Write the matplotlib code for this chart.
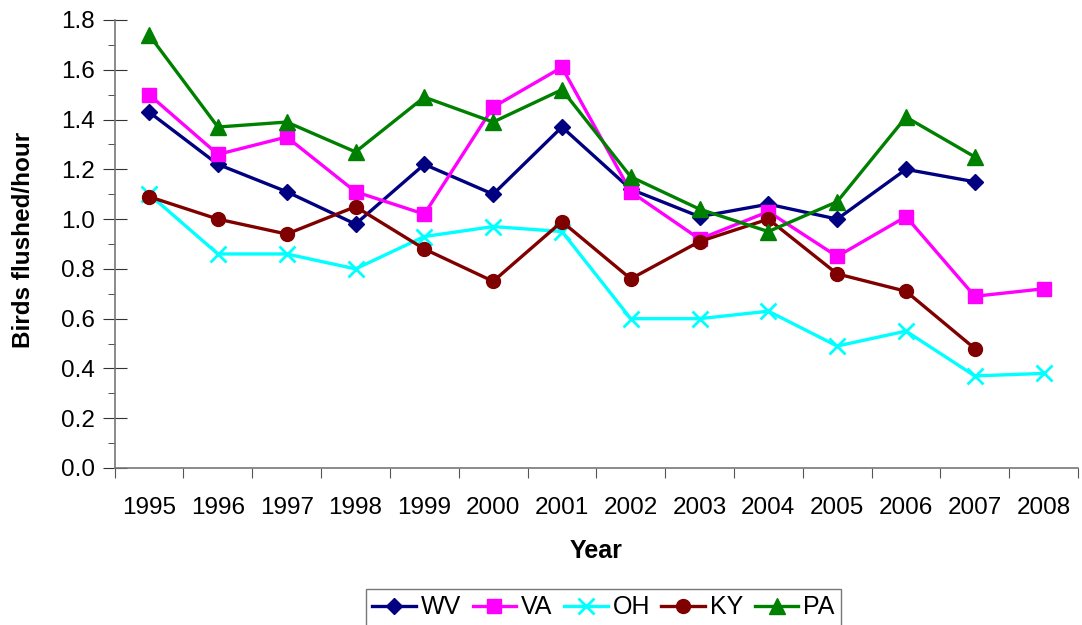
import matplotlib.pyplot as plt
import numpy as np
from matplotlib.ticker import MultipleLocator

plt.rcParams['font.family'] = ['Liberation Sans', 'DejaVu Sans']

years = ['1995', '1996', '1997', '1998', '1999', '2000', '2001',
         '2002', '2003', '2004', '2005', '2006', '2007', '2008']

wv = [1.43, 1.22, 1.11, 0.98, 1.22, 1.10, 1.37, 1.12, 1.01, 1.06, 1.00, 1.20, 1.15, None]
va = [1.50, 1.26, 1.33, 1.11, 1.02, 1.45, 1.61, 1.11, 0.92, 1.03, 0.85, 1.01, 0.69, 0.72]
oh = [1.10, 0.86, 0.86, 0.80, 0.93, 0.97, 0.95, 0.60, 0.60, 0.63, 0.49, 0.55, 0.37, 0.38]
ky = [1.09, 1.00, 0.94, 1.05, 0.88, 0.75, 0.99, 0.76, 0.91, 1.00, 0.78, 0.71, 0.48, None]
pa = [1.74, 1.37, 1.39, 1.27, 1.49, 1.39, 1.52, 1.17, 1.04, 0.95, 1.07, 1.41, 1.25, None]

series = [
    ('WV', wv, '#000080', 'D', 8.5),
    ('VA', va, '#FF00FF', 's', 10),
    ('OH', oh, '#00FFFF', 'x', 11),
    ('KY', ky, '#800000', 'o', 10),
    ('PA', pa, '#008000', '^', 11),
]

fig = plt.figure(figsize=(10.82, 6.25), dpi=100)
ax = fig.add_axes([0.106, 0.2512, 0.8903, 0.7168])

x = np.arange(len(years))
for name, vals, col, mk, ms in series:
    y = np.array([np.nan if v is None else v for v in vals])
    ax.plot(x, y, color=col, marker=mk, markersize=ms, linewidth=2.4,
            markeredgewidth=2 if mk == 'x' else 1, label=name)

ax.set_xlim(-0.5, len(years) - 0.5)
ax.set_ylim(0, 1.8)
ax.set_yticks(np.arange(0, 1.81, 0.2))
ax.set_yticklabels(['%.1f' % v for v in np.arange(0, 1.81, 0.2)])
ax.yaxis.set_minor_locator(MultipleLocator(0.1))

ax.set_xticks(np.arange(-0.5, len(years), 1.0))
ax.set_xticklabels([])
ax.set_xticks(x, minor=True)
ax.set_xticklabels(years, minor=True)
ax.tick_params(axis='x', which='major', direction='out', length=7, color='#555555')
ax.tick_params(axis='x', which='minor', length=0, pad=21, labelsize=17.5)
ax.tick_params(axis='y', which='major', direction='inout', length=17, color='#333333',
               labelsize=17.5, pad=6)
ax.tick_params(axis='y', which='minor', direction='out', length=5, color='#333333')

for s in ['top', 'right']:
    ax.spines[s].set_visible(False)
ax.spines['left'].set_color('#777777')
ax.spines['bottom'].set_color('#777777')
ax.spines['left'].set_linewidth(1.2)
ax.spines['bottom'].set_linewidth(1.2)

ax.set_xlabel('Year', fontsize=18, fontweight='bold', labelpad=14)
ax.set_ylabel('Birds flushed/hour', fontsize=17.5, fontweight='bold')
ax.yaxis.set_label_coords(-0.083, 0.51)

leg = fig.legend(loc='upper center', bbox_to_anchor=(0.5578, 0.0576), ncol=5, fontsize=18,
                 frameon=True, fancybox=False, edgecolor='#555555',
                 handlelength=1.75, handletextpad=0.2, columnspacing=0.45,
                 borderpad=0.25, borderaxespad=0)
leg.get_frame().set_linewidth(1.0)

fig.savefig('out.png', dpi=100)
